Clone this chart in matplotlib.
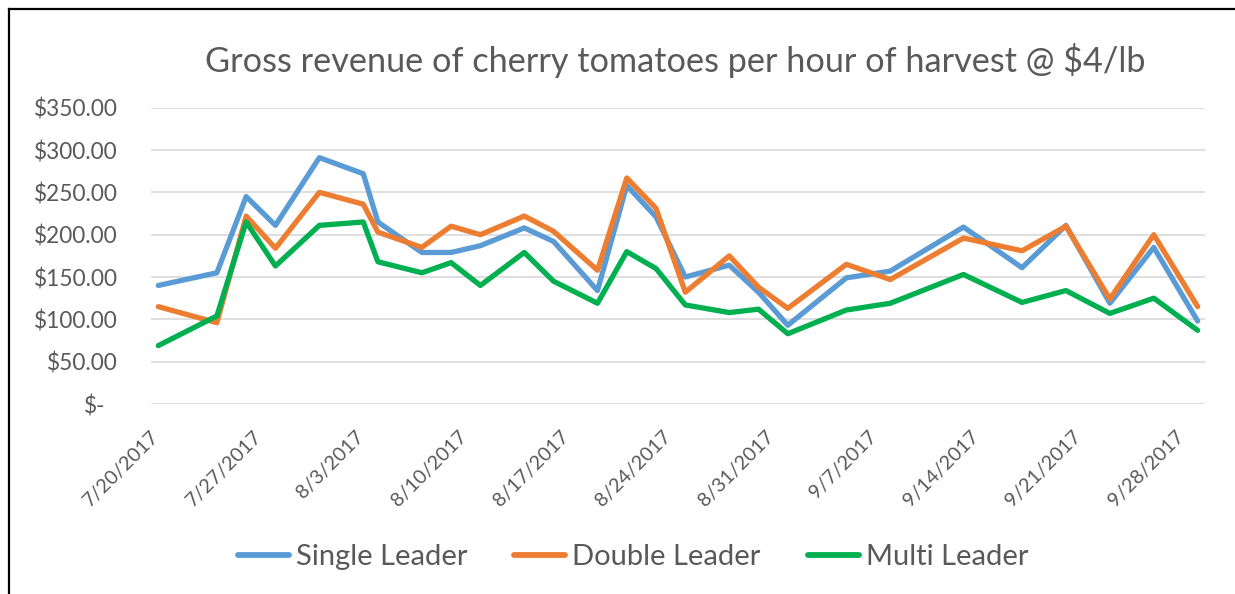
import numpy as np
import pandas as pd
import matplotlib
matplotlib.use('Agg')
import matplotlib.pyplot as plt
import matplotlib.dates as mdates
from matplotlib.lines import Line2D
from matplotlib.transforms import ScaledTranslation

# harvest dates and gross revenue per hour for each training system
dates = ['2017-07-20', '2017-07-24', '2017-07-26', '2017-07-28', '2017-07-31',
         '2017-08-03', '2017-08-04', '2017-08-07', '2017-08-09', '2017-08-11',
         '2017-08-14', '2017-08-16', '2017-08-19', '2017-08-21', '2017-08-23',
         '2017-08-25', '2017-08-28', '2017-08-30', '2017-09-01', '2017-09-05',
         '2017-09-08', '2017-09-13', '2017-09-17', '2017-09-20', '2017-09-23',
         '2017-09-26', '2017-09-29']
single_leader = [140, 155, 245, 211, 291, 272, 215, 179, 179, 187, 208, 192, 134, 258,
                 221, 150, 164, 132, 93, 149, 157, 209, 161, 211, 119, 185, 98]
double_leader = [115, 96, 222, 184, 250, 236, 203, 185, 210, 200, 222, 204, 158, 267,
                 231, 132, 175, 138, 113, 165, 147, 196, 181, 210, 124, 200, 115]
multi_leader = [69, 104, 215, 163, 211, 215, 168, 155, 167, 140, 179, 145, 119, 180,
                160, 117, 108, 112, 83, 111, 119, 153, 120, 134, 107, 125, 87]

tick_dates = ['2017-07-20', '2017-07-27', '2017-08-03', '2017-08-10', '2017-08-17',
              '2017-08-24', '2017-08-31', '2017-09-07', '2017-09-14', '2017-09-21',
              '2017-09-28']
y_ticks = [0, 50, 100, 150, 200, 250, 300, 350]

series_names = ['Single Leader', 'Double Leader', 'Multi Leader']
colours = ['#5B9BD5', '#ED7D31', '#00B050']
text_grey = '#595959'

plt.rcParams['font.family'] = ['Lato', 'DejaVu Sans']

df = pd.DataFrame({'date': pd.to_datetime(dates),
                   'Single Leader': single_leader,
                   'Double Leader': double_leader,
                   'Multi Leader': multi_leader})

fig = plt.figure(figsize=(12.35, 5.94), dpi=100)
ax = fig.add_axes([151 / 1235, 1 - 404 / 594, (1205 - 151) / 1235, (404 - 107.7) / 594])

#plot the three series, later ones on top
for name, col in zip(series_names, colours):
  ax.plot(df['date'], df[name], color=col, linewidth=3.8, label=name,
          solid_joinstyle='round', solid_capstyle='round', zorder=3)

#date axis runs half a day either side of the first and last harvest
x0 = pd.Timestamp(dates[0]) - pd.Timedelta(hours=12)
x1 = pd.Timestamp(dates[-1]) + pd.Timedelta(hours=12)
ax.set_xlim(x0, x1)
ax.set_ylim(0, 350)

ax.set_xticks(pd.to_datetime(tick_dates))
ax.set_xticklabels([d.strftime('%-m/%-d/%Y') for d in pd.to_datetime(tick_dates)],
                   rotation=45, ha='right', va='top', fontsize=14.3, color=text_grey)
ax.set_yticks(y_ticks)
ax.set_yticklabels(['$-' if v == 0 else '${:,.2f}'.format(v) for v in y_ticks],
                   fontsize=16.3, color=text_grey)
ax.tick_params(axis='x', length=0, pad=17)
ax.tick_params(axis='y', length=0, pad=24)

#nudge the date labels so their top right corner sits on the date
for lab in ax.get_xticklabels():
  lab.set_transform(lab.get_transform() + ScaledTranslation(4 / 100, 0, fig.dpi_scale_trans))

#accounting style zero sits a bit left of the others
zero_lab = ax.get_yticklabels()[0]
zero_lab.set_transform(zero_lab.get_transform() + ScaledTranslation(-12 / 100, 0, fig.dpi_scale_trans))

#gridlines
ax.grid(axis='y', color='#D9D9D9', linewidth=1.2, zorder=0)
ax.set_axisbelow(True)
for s in ax.spines.values():
  s.set_visible(False)

fig.text(675 / 1235, 1 - 60 / 594, 'Gross revenue of cherry tomatoes per hour of harvest @ $4/lb',
         ha='center', va='center', fontsize=24.7, color=text_grey)

leg = fig.legend(loc='center', bbox_to_anchor=(633 / 1235, 1 - 557 / 594), ncol=3,
                 frameon=False, fontsize=21, handlelength=1.75, handletextpad=0.25,
                 columnspacing=1.6)
for t in leg.get_texts():
  t.set_color(text_grey)
for h in leg.legend_handles:
  h.set_linewidth(4.2)

#black chart border (top and left edges visible in the crop)
fig.add_artist(Line2D([9 / 1235, 9 / 1235], [0, 1 - 9 / 594], transform=fig.transFigure,
                      color='black', linewidth=1.6))
fig.add_artist(Line2D([9 / 1235, 1], [1 - 9 / 594, 1 - 9 / 594], transform=fig.transFigure,
                      color='black', linewidth=1.6))

plt.savefig('out.png', dpi=100)
